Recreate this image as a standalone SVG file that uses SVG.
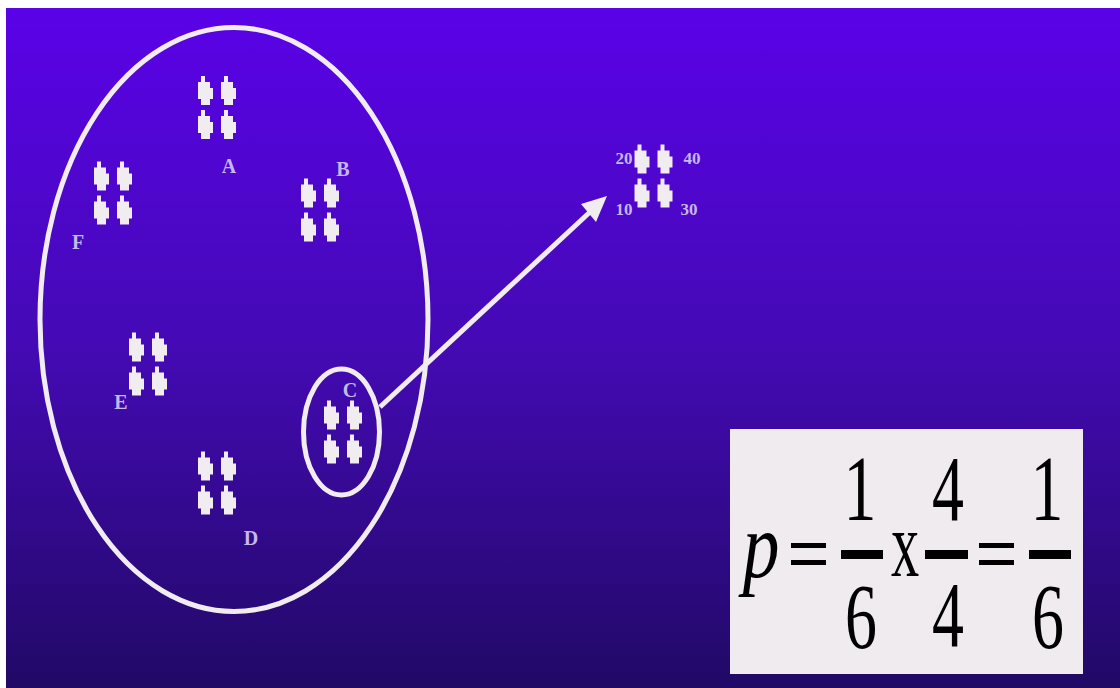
<svg xmlns="http://www.w3.org/2000/svg" width="1120" height="688" viewBox="0 0 1120 688">
<defs>
<linearGradient id="bg" x1="0" y1="0" x2="0" y2="1">
<stop offset="0" stop-color="#5a02e8"/>
<stop offset="0.5" stop-color="#440ab4"/>
<stop offset="1" stop-color="#210966"/>
</linearGradient>
<path id="chr" d="M-4.5,-14.5 L-0.5,-14.5 L-0.5,-8.5 L4.5,-8.5 L4.5,-2.5 L7.5,-2.5 L7.5,8.5 L4.5,8.5 L4.5,14.5 L-4.5,14.5 L-4.5,8.5 L-7.5,8.5 L-7.5,-8.5 L-4.5,-8.5 Z"/>
<g id="quad">
<use href="#chr" x="0" y="0"/>
<use href="#chr" x="23" y="0"/>
<use href="#chr" x="0" y="34"/>
<use href="#chr" x="23" y="34"/>
</g>
</defs>
<style>
.ring{fill:none;stroke:#f0ecf0;stroke-width:5}
.chrom{fill:#f0ecf0}
.lbl{font-family:"Liberation Serif",serif;font-size:20px;font-weight:bold;fill:#c4b8ee;text-anchor:middle}
.num{font-family:"Liberation Serif",serif;font-size:94px;fill:#000;text-anchor:middle}
.bar{fill:#000}
</style>
<rect x="0" y="0" width="1120" height="688" fill="#ffffff"/>
<rect x="6" y="8" width="1114" height="680" fill="url(#bg)"/>

<g id="connectors">
<line x1="380" y1="407" x2="590" y2="212" stroke="#f0ecf0" stroke-width="5"/>
<polygon points="607,196 581,204 596,222" fill="#f0ecf0"/>
</g>

<g id="outer-cell">
<ellipse class="ring" cx="234" cy="319.5" rx="194" ry="292"/>
</g>

<g id="A" class="chrom">
<use href="#quad" x="205.5" y="90.5"/>
<text class="lbl" x="229" y="173">A</text>
</g>
<g id="B" class="chrom">
<use href="#quad" x="308.5" y="193"/>
<text class="lbl" x="343" y="176">B</text>
</g>
<g id="F" class="chrom">
<use href="#quad" x="101.5" y="176"/>
<text class="lbl" x="78" y="249">F</text>
</g>
<g id="E" class="chrom">
<use href="#quad" x="136.5" y="347"/>
<text class="lbl" x="121" y="409">E</text>
</g>
<g id="C" class="chrom">
<ellipse class="ring" cx="341.5" cy="432" rx="38" ry="63"/>
<use href="#quad" x="331.5" y="415"/>
<text class="lbl" x="350" y="397">C</text>
</g>
<g id="D" class="chrom">
<use href="#quad" x="205.5" y="466"/>
<text class="lbl" x="251" y="545">D</text>
</g>
<g id="gamete" class="chrom">
<use href="#quad" x="642" y="159"/>
<text class="lbl" x="624" y="164" style="font-size:17px">20</text>
<text class="lbl" x="692" y="164" style="font-size:17px">40</text>
<text class="lbl" x="624" y="215" style="font-size:17px">10</text>
<text class="lbl" x="689" y="215" style="font-size:17px">30</text>
</g>

<g id="formula">
<rect x="730" y="429" width="353" height="245" fill="#efebef"/>
<text class="num" transform="translate(761,577) scale(0.78,1)" font-style="italic">p</text>
<rect class="bar" x="791" y="543" width="35" height="5"/>
<rect class="bar" x="791" y="560" width="35" height="5"/>
<rect class="bar" x="841" y="550" width="42" height="9"/>
<text class="num" transform="translate(860,520) scale(0.7,1)">1</text>
<text class="num" transform="translate(861,648) scale(0.68,1)">6</text>
<text class="num" transform="translate(905,576) scale(0.6,1)">x</text>
<rect class="bar" x="925" y="550" width="43" height="9"/>
<text class="num" transform="translate(948,520) scale(0.68,1)">4</text>
<text class="num" transform="translate(948,646) scale(0.68,1)">4</text>
<rect class="bar" x="979" y="543" width="35" height="5"/>
<rect class="bar" x="979" y="560" width="35" height="5"/>
<rect class="bar" x="1029" y="550" width="42" height="9"/>
<text class="num" transform="translate(1047,520) scale(0.7,1)">1</text>
<text class="num" transform="translate(1048,648) scale(0.68,1)">6</text>
</g>
</svg>
